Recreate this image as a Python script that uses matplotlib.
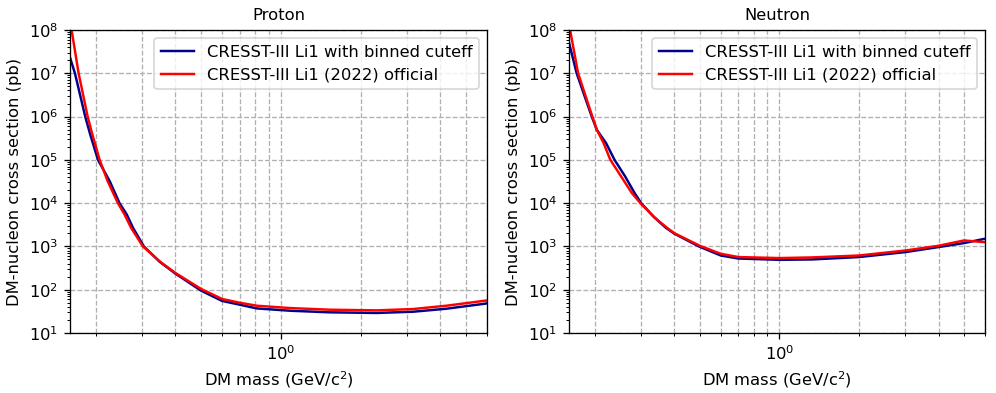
import matplotlib
matplotlib.use('Agg')
import matplotlib.pyplot as plt


# 读图估计的数据 (质量 GeV/c^2, 截面 pb)
proton_mass_bin = [0.160, 0.167, 0.1826, 0.1906, 0.204, 0.226, 0.246, 0.262, 0.2766, 0.304,
                   0.349, 0.40, 0.50, 0.60, 0.70, 0.81, 1.08, 1.53, 2.30, 3.16, 4.22, 5.89, 6.0]
proton_sigma_bin = [2.3e7, 1.0e7, 1.0e6, 3.9e5, 1.0e5, 3.2e4, 1.0e4, 5460, 2690, 1.0e3,
                    440, 235, 95, 55, 45, 37, 32.7, 30, 29, 31, 36.4, 47.5, 48.5]

proton_mass_off = [0.160, 0.1622, 0.1724, 0.1865, 0.1942, 0.207, 0.222, 0.2426, 0.257, 0.272,
                   0.3015, 0.349, 0.40, 0.50, 0.60, 0.70, 0.81, 1.08, 1.53, 2.30, 3.16, 4.22,
                   5.89, 6.0]
proton_sigma_off = [1.25e8, 1.0e8, 1.0e7, 1.0e6, 3.9e5, 1.0e5, 3.2e4, 1.0e4, 5460, 2690,
                    1.0e3, 450, 243, 104, 61, 50, 42.7, 37.7, 34.5, 33.3, 35.8, 42.7,
                    55.7, 56.5]

neutron_mass_bin = [0.160, 0.171, 0.195, 0.204, 0.221, 0.2379, 0.261, 0.2835, 0.300, 0.334,
                    0.351, 0.372, 0.40, 0.496, 0.60, 0.70, 1.0, 1.33, 2.0, 3.0, 4.0, 5.0,
                    5.91, 6.0]
neutron_sigma_bin = [5.1e7, 1.0e7, 1.0e6, 4.9e5, 2.43e5, 1.0e5, 4.12e4, 1.7e4, 1.0e4, 4900,
                     3700, 2690, 1980, 1000, 617, 525, 490, 500, 568, 740, 966, 1195,
                     1480, 1500]

neutron_mass_off = [0.160, 0.1615, 0.1732, 0.196, 0.204, 0.2163, 0.2293, 0.252, 0.2768, 0.298,
                    0.334, 0.351, 0.376, 0.40, 0.50, 0.60, 0.70, 1.0, 1.33, 2.0, 3.0, 4.0,
                    5.0, 5.91, 6.0]
neutron_sigma_off = [1.2e8, 1.0e8, 1.0e7, 1.0e6, 4.9e5, 2.43e5, 1.0e5, 4.12e4, 1.7e4, 1.0e4,
                     4920, 3780, 2690, 2030, 1035, 676, 568, 538, 557, 617, 805, 1035,
                     1374, 1260, 1255]

titles = ['Proton', 'Neutron']
label_bin = 'CRESST-III Li1 with binned cuteff'
label_off = 'CRESST-III Li1 (2022) official'


def draw_panel(ax, title, m_bin, s_bin, m_off, s_off):
    ax.plot(m_bin, s_bin, color='darkblue', lw=1.5, label=label_bin)
    ax.plot(m_off, s_off, color='red', lw=1.5, label=label_off)
    ax.set_xscale('log')
    ax.set_yscale('log')
    ax.set_xlim(0.16, 6.0)
    ax.set_ylim(1e1, 1e8)
    ax.grid(True, which='both', axis='x', ls='--', color='#b0b0b0')
    ax.grid(True, which='major', axis='y', ls='--', color='#b0b0b0')
    ax.set_title(title, fontsize=10)
    ax.set_xlabel('DM mass (GeV/c$^2$)')
    ax.set_ylabel('DM-nucleon cross section (pb)')
    ax.legend(loc='upper right')


fig = plt.figure(figsize=(996 / 118, 393 / 118), dpi=118)
ax1 = fig.add_axes([0.0703, 0.1527, 0.4187, 0.771])
ax2 = fig.add_axes([0.5713, 0.1527, 0.4177, 0.771])
draw_panel(ax1, titles[0], proton_mass_bin, proton_sigma_bin, proton_mass_off, proton_sigma_off)
draw_panel(ax2, titles[1], neutron_mass_bin, neutron_sigma_bin, neutron_mass_off, neutron_sigma_off)
fig.savefig('out.png', dpi=118)
